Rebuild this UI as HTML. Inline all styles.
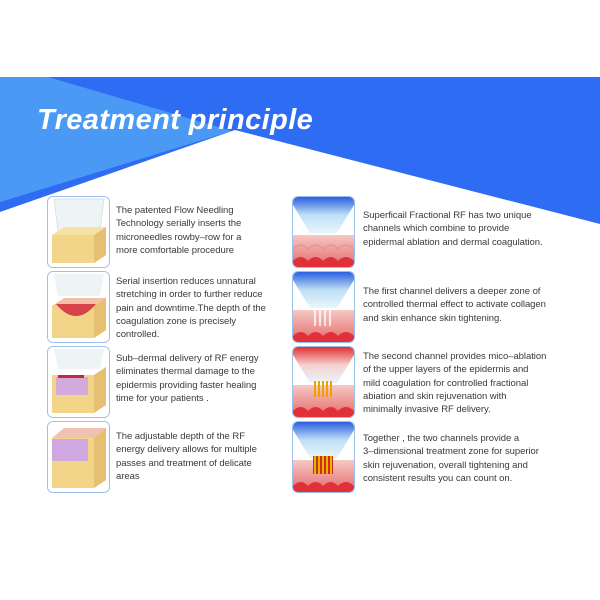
<!DOCTYPE html>
<html><head><meta charset="utf-8"><style>
body{margin:0;width:600px;height:600px;background:#fff;position:relative;overflow:hidden;font-family:"Liberation Sans",sans-serif}
.t{position:absolute;font-size:9.5px;line-height:13.3px;color:#3a3a3a;letter-spacing:-0.05px;white-space:nowrap}
.im{position:absolute;width:61px;height:70px;border:1px solid #9cc0ea;border-radius:6px;overflow:hidden;background:#fff}
.title{position:absolute;left:37px;top:104px;font-size:29px;font-weight:bold;font-style:italic;color:#fff;letter-spacing:0.4px;transform:scaleX(1.0);transform-origin:left}
</style></head><body>
<svg width="600" height="600" style="position:absolute;left:0;top:0">
<defs>
<linearGradient id="bl" x1="0" y1="0" x2="0" y2="1"><stop offset="0" stop-color="#2a5fe0"/><stop offset="0.5" stop-color="#bfe0f5"/><stop offset="1" stop-color="#e8f6fb"/></linearGradient>
<linearGradient id="rd" x1="0" y1="0" x2="0" y2="1"><stop offset="0" stop-color="#e23030"/><stop offset="0.5" stop-color="#f5d0d0"/><stop offset="1" stop-color="#eaf6fb"/></linearGradient>
<linearGradient id="sk" x1="0" y1="0" x2="0" y2="1"><stop offset="0" stop-color="#f6c8c4"/><stop offset="1" stop-color="#e46a6a"/></linearGradient>
</defs>
<rect x="0" y="77" width="600" height="155" fill="#2e6cf4"/>
<polygon points="0,77 48,77 232,131 0,202" fill="#4a9af5"/>
<polygon points="0,212 235,130 600,224 600,240 0,240" fill="#fff"/>
</svg>
<div class="title">Treatment principle</div>

<svg class="im" style="left:47px;top:196px" viewBox="0 0 61 70"><rect width="61" height="70" fill="#fff"/><path d="M6 2 L56 2 L52 34 L10 34Z" fill="#eef3f6" stroke="#ccc" stroke-width=".5"/><path d="M4 38 L46 38 L58 30 L58 58 L46 66 L4 66Z" fill="#f3d58a"/><path d="M4 38 L46 38 L58 30 L16 30Z" fill="#f7e2a6"/><path d="M46 38 L58 30 L58 58 L46 66Z" fill="#e6c070"/></svg>
<svg class="im" style="left:47px;top:271px" viewBox="0 0 61 70"><rect width="61" height="70" fill="#fff"/><path d="M6 2 L56 2 L52 24 L10 24Z" fill="#eef3f6"/><path d="M4 34 L46 34 L58 26 L58 58 L46 66 L4 66Z" fill="#f3d58a"/><path d="M4 34 L46 34 L58 26 L16 26Z" fill="#f1c2a8"/><path d="M46 34 L58 26 L58 58 L46 66Z" fill="#e6c070"/><path d="M8 32 Q28 56 48 32Z" fill="#d8424a"/></svg>
<svg class="im" style="left:47px;top:346px" viewBox="0 0 61 70"><rect width="61" height="70" fill="#fff"/><path d="M6 2 L56 2 L52 22 L10 22Z" fill="#eef3f6"/><path d="M4 28 L46 28 L58 20 L58 58 L46 66 L4 66Z" fill="#f3d58a"/><path d="M46 28 L58 20 L58 58 L46 66Z" fill="#e6c070"/><rect x="8" y="30" width="32" height="18" fill="#c9a0f0" opacity=".8"/><rect x="10" y="28" width="26" height="3" fill="#c8283a"/></svg>
<svg class="im" style="left:47px;top:421px" viewBox="0 0 61 70"><rect width="61" height="70" fill="#fff"/><path d="M4 16 L46 16 L58 6 L58 58 L46 66 L4 66Z" fill="#f3d58a"/><path d="M4 16 L46 16 L58 6 L16 6Z" fill="#f0c0b0"/><path d="M46 16 L58 6 L58 58 L46 66Z" fill="#e6c070"/><rect x="4" y="17" width="36" height="22" fill="#c9a0f0" opacity=".85"/></svg>

<svg class="im" style="left:292px;top:196px" viewBox="0 0 61 70"><rect width="61" height="70" fill="#fff"/><path d="M0 0 L61 0 L61 8 L44 36 L17 36 L0 8Z" fill="url(#bl)"/><rect y="38" width="61" height="32" fill="url(#sk)"/><path d="M0 52 Q8 44 15 52 Q23 44 30 52 Q38 44 45 52 Q53 44 61 52" fill="none" stroke="#e88" stroke-width="1"/><path d="M0 64 Q8 56 15 64 Q23 56 30 64 Q38 56 45 64 Q53 56 61 64 L61 70 L0 70Z" fill="#e0303a"/></svg>
<svg class="im" style="left:292px;top:271px" viewBox="0 0 61 70"><rect width="61" height="70" fill="#fff"/><path d="M0 0 L61 0 L61 8 L44 36 L17 36 L0 8Z" fill="url(#bl)"/><rect y="38" width="61" height="32" fill="url(#sk)"/><path d="M22 36v18M27 36v18M32 36v18M37 36v18" stroke="#fff" stroke-width="1.5"/><path d="M0 64 Q8 56 15 64 Q23 56 30 64 Q38 56 45 64 Q53 56 61 64 L61 70 L0 70Z" fill="#e0303a"/></svg>
<svg class="im" style="left:292px;top:346px" viewBox="0 0 61 70"><rect width="61" height="70" fill="#fff"/><path d="M0 0 L61 0 L61 8 L44 36 L17 36 L0 8Z" fill="url(#rd)"/><rect y="38" width="61" height="32" fill="url(#sk)"/><path d="M22 34v16M26 34v16M30 34v16M34 34v16M38 34v16" stroke="#f0a000" stroke-width="2"/><path d="M0 64 Q8 56 15 64 Q23 56 30 64 Q38 56 45 64 Q53 56 61 64 L61 70 L0 70Z" fill="#e0303a"/></svg>
<svg class="im" style="left:292px;top:421px" viewBox="0 0 61 70"><rect width="61" height="70" fill="#fff"/><path d="M0 0 L61 0 L61 8 L44 36 L17 36 L0 8Z" fill="url(#bl)"/><rect y="38" width="61" height="32" fill="url(#sk)"/><rect x="20" y="34" width="20" height="18" fill="#c83020"/><path d="M22 34v18M26 34v18M30 34v18M34 34v18M38 34v18" stroke="#f0b000" stroke-width="2"/><path d="M0 64 Q8 56 15 64 Q23 56 30 64 Q38 56 45 64 Q53 56 61 64 L61 70 L0 70Z" fill="#e0303a"/></svg>

<div class="t" style="left:116px;top:204px">The patented Flow Needling<br>Technology serially inserts the<br>microneedles rowby–row for a<br>more comfortable procedure</div>
<div class="t" style="left:116px;top:275px">Serial insertion reduces unnatural<br>stretching in order to further reduce<br>pain and downtime.The depth of the<br>coagulation zone is precisely<br>controlled.</div>
<div class="t" style="left:116px;top:352px">Sub–dermal delivery of RF energy<br>eliminates thermal damage to the<br>epidermis providing faster healing<br>time for your patients .</div>
<div class="t" style="left:116px;top:430px">The adjustable depth of the RF<br>energy delivery allows for multiple<br>passes and treatment of delicate<br>areas</div>

<div class="t" style="left:363px;top:209px">Superficail Fractional RF has two unique<br>channels which combine to provide<br>epidermal ablation and dermal coagulation.</div>
<div class="t" style="left:363px;top:285px">The first channel delivers a deeper zone of<br>controlled thermal effect to activate collagen<br>and skin enhance skin tightening.</div>
<div class="t" style="left:363px;top:350px">The second channel provides mico–ablation<br>of the upper layers of the epidermis and<br>mild coagulation for controlled fractional<br>abiation and skin rejuvenation with<br>minimally invasive RF delivery.</div>
<div class="t" style="left:363px;top:432px">Together , the two channels provide a<br>3–dimensional treatment zone for superior<br>skin rejuvenation, overall tightening and<br>consistent results you can count on.</div>
</body></html>
